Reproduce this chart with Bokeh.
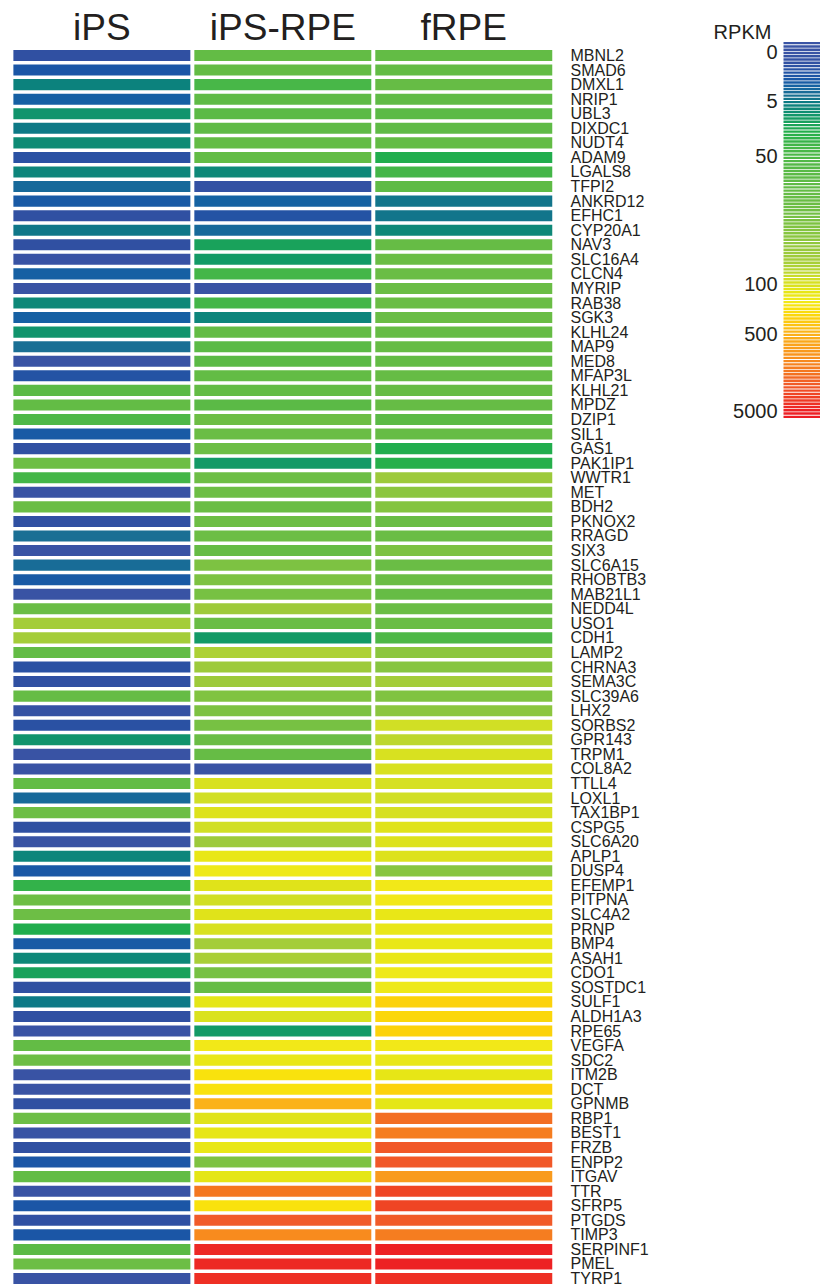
import numpy as np
from bokeh.plotting import figure
from bokeh.models import Range1d, LinearColorMapper, ColumnDataSource
from bokeh.core.properties import value
from bokeh.embed import file_html
from bokeh.resources import INLINE

# ---------------- data ----------------
samples = ["iPS", "iPS-RPE", "fRPE"]

genes = ["MBNL2", "SMAD6", "DMXL1", "NRIP1", "UBL3", "DIXDC1", "NUDT4", "ADAM9", "LGALS8", "TFPI2",
         "ANKRD12", "EFHC1", "CYP20A1", "NAV3", "SLC16A4", "CLCN4", "MYRIP", "RAB38", "SGK3", "KLHL24",
         "MAP9", "MED8", "MFAP3L", "KLHL21", "MPDZ", "DZIP1", "SIL1", "GAS1", "PAK1IP1", "WWTR1",
         "MET", "BDH2", "PKNOX2", "RRAGD", "SIX3", "SLC6A15", "RHOBTB3", "MAB21L1", "NEDD4L", "USO1",
         "CDH1", "LAMP2", "CHRNA3", "SEMA3C", "SLC39A6", "LHX2", "SORBS2", "GPR143", "TRPM1", "COL8A2",
         "TTLL4", "LOXL1", "TAX1BP1", "CSPG5", "SLC6A20", "APLP1", "DUSP4", "EFEMP1", "PITPNA", "SLC4A2",
         "PRNP", "BMP4", "ASAH1", "CDO1", "SOSTDC1", "SULF1", "ALDH1A3", "RPE65", "VEGFA", "SDC2",
         "ITM2B", "DCT", "GPNMB", "RBP1", "BEST1", "FRZB", "ENPP2", "ITGAV", "TTR", "SFRP5",
         "PTGDS", "TIMP3", "SERPINF1", "PMEL", "TYRP1"]

# RPKM estimates read from the colours
ips = [0.5, 1.5, 6, 2.2, 9, 5, 7.5, 0.7, 6.5, 3,
       1.8, 0.5, 4.5, 0.5, 0, 2.3, 0, 7, 2.3, 9,
       3.5, 0, 1.0, 55, 60, 50, 1.8, 0.5, 66, 35,
       0, 65, 0.5, 3.5, 0, 3.2, 1.8, 0, 65, 88,
       88, 60, 0.7, 0.5, 62, 0.2, 0.7, 9, 0, 0,
       60, 3, 66, 0.5, 0, 6.5, 1.6, 25, 66, 66,
       18, 1.8, 7, 13, 0.5, 5, 0.5, 0, 60, 66,
       0, 0, 0.5, 66, 0, 0.5, 1.5, 60, 0, 1.5,
       0.5, 1.5, 55, 66, 0]

ips_rpe = [60, 60, 38, 57, 55, 57, 60, 60, 7, 0.3,
           2.5, 1.0, 3, 13, 10, 35, 0, 35, 6.5, 60,
           55, 55, 60, 60, 55, 66, 65, 66, 10, 66,
           66, 65, 66, 66, 62, 72, 72, 70, 85, 65,
           10, 91, 85, 85, 73, 72, 70, 65, 62, 0,
           100, 98, 110, 98, 85, 140, 160, 115, 98, 115,
           100, 88, 90, 70, 62, 130, 105, 10, 175, 140,
           220, 220, 500, 115, 135, 140, 72, 130, 1500, 220,
           2200, 1100, 4500, 4500, 4000]

frpe = [60, 60, 62, 58, 55, 57, 60, 18, 35, 57,
        4.2, 4.2, 7, 62, 65, 65, 65, 65, 65, 62,
        62, 60, 62, 62, 62, 55, 62, 18, 20, 85,
        78, 75, 65, 65, 72, 65, 65, 62, 65, 65,
        50, 78, 76, 88, 73, 78, 98, 94, 100, 100,
        99, 98, 99, 115, 110, 110, 76, 175, 175, 140,
        140, 140, 140, 160, 160, 300, 270, 300, 175, 140,
        135, 300, 130, 1700, 1400, 2300, 2300, 800, 3000, 3000,
        2200, 1400, 5000, 5000, 4000]

cbar_ticks = [0, 5, 50, 100, 500, 5000]
cbar_tick_frac = [0.029, 0.159, 0.305, 0.642, 0.775, 0.981]   # scale: where each RPKM sits on the bar

cbar_stops = [(0.0, "#3a54a5"), (0.029, "#3953a4"), (0.058, "#2f50a2"), (0.095, "#1b56a6"),
              (0.12, "#1463a2"), (0.138, "#1a6f93"), (0.159, "#0b7a84"), (0.179, "#0e8a76"),
              (0.2, "#139a66"), (0.238, "#22ae4b"), (0.281, "#46b748"), (0.351, "#5cba46"),
              (0.432, "#6abd45"), (0.48, "#7cc242"), (0.52, "#8bc63f"), (0.562, "#9cca3b"),
              (0.591, "#a8cf38"), (0.632, "#d2df25"), (0.65, "#dce21d"), (0.664, "#e6e615"),
              (0.686, "#f0e91b"), (0.707, "#f9e20c"), (0.733, "#fcd20b"), (0.775, "#fbb31a"),
              (0.845, "#f88d1e"), (0.884, "#f37021"), (0.911, "#f15a29"), (0.94, "#ef4323"),
              (0.981, "#ed2224"), (1.0, "#ec1c24")]
n_stripes = 115

# ---------------- helpers ----------------
def build_palette(stops, n=256):
    fr = np.array([s[0] for s in stops])
    rgb = np.array([[int(c[i:i + 2], 16) for i in (1, 3, 5)] for _, c in stops], dtype=float)
    out = []
    for t in np.linspace(0, 1, n):
        r, g, b = (np.interp(t, fr, rgb[:, k]) for k in range(3))
        out.append("#%02x%02x%02x" % (int(round(r)), int(round(g)), int(round(b))))
    return out

def to_level(v):
    return np.interp(np.log10(np.asarray(v, dtype=float) + 1.0),
                     np.log10(np.asarray(cbar_ticks, dtype=float) + 1.0), cbar_tick_frac)

mapper = LinearColorMapper(palette=build_palette(cbar_stops), low=0, high=1)

# ---------------- figure ----------------
W, H = 820, 1287
p = figure(width=W, height=H, output_backend="svg", toolbar_location=None,
           x_range=Range1d(-0.0602, 4.4714), y_range=Range1d(84.615, -3.7775),
           x_axis_type=None, y_axis_type=None, min_border=0,
           outline_line_color=None, background_fill_color="white")
p.grid.visible = False
p.extra_x_ranges = {"px": Range1d(0, W)}
p.extra_y_ranges = {"py": Range1d(H, 0), "cb": Range1d(3.30504, -0.10875)}

xs, ys, lv = [], [], []
for j, series in enumerate([ips, ips_rpe, frpe]):
    for i, v in enumerate(series):
        xs.append(j + 0.5)
        ys.append(i)
        lv.append(float(to_level(v)))
src = ColumnDataSource(dict(x=xs, y=ys, level=lv))
p.rect(x="x", y="y", width=0.978, height=0.76, source=src,
       fill_color={"field": "level", "transform": mapper}, line_color=None)

font = value("Liberation Sans")
txt = "#231f20"

# gene labels
p.text(x=570, y=list(range(len(genes))), text=genes, x_range_name="px",
       text_font=font, text_font_size="16px", text_color=txt,
       text_align="left", text_baseline="middle")

# column headers
p.text(x=[j + 0.5 for j in range(len(samples))], y=[27] * len(samples), text=samples,
       y_range_name="py", text_font=font, text_font_size="37px", text_color=txt,
       text_align="center", text_baseline="middle")

# colour bar
centers = (np.arange(n_stripes) + 0.5) / n_stripes
cb_src = ColumnDataSource(dict(y=centers, level=centers))
p.rect(x=801.5, y="y", width=37, height=0.74 / n_stripes, source=cb_src,
       x_range_name="px", y_range_name="cb",
       fill_color={"field": "level", "transform": mapper}, line_color=None)

p.text(x=742, y=31.5, text=["RPKM"], x_range_name="px", y_range_name="py",
       text_font=font, text_font_size="20px", text_color=txt,
       text_align="center", text_baseline="middle")

p.text(x=777, y=list(to_level(cbar_ticks)), text=[str(t) for t in cbar_ticks],
       x_range_name="px", y_range_name="cb",
       text_font=font, text_font_size="20px", text_color=txt,
       text_align="right", text_baseline="middle")

open("out.html", "w").write(file_html(p, INLINE))
